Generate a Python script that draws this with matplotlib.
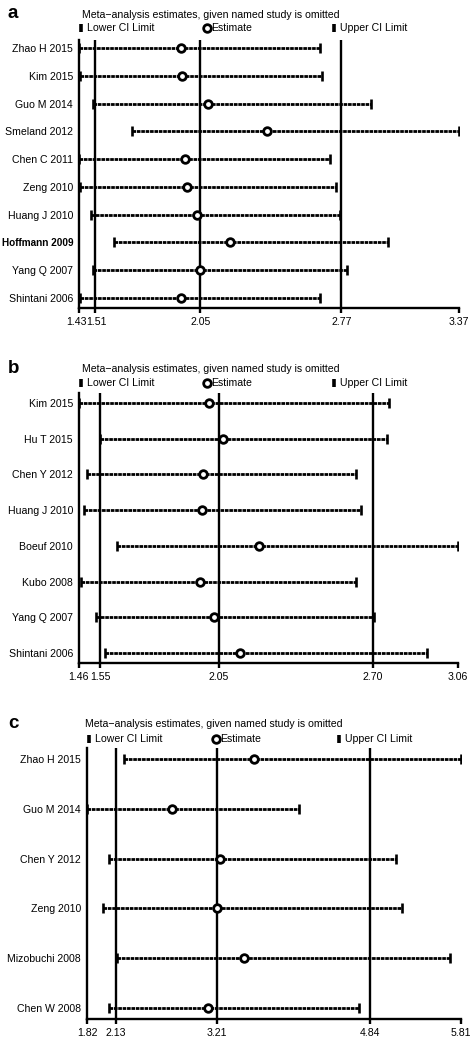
import matplotlib
matplotlib.use("Agg")
import matplotlib.pyplot as plt
from matplotlib.lines import Line2D
from matplotlib.transforms import ScaledTranslation

plt.rcParams['font.family'] = ['Liberation Sans', 'DejaVu Sans']

# ---------------- data ----------------
studies_a = ["Zhao H 2015", "Kim 2015", "Guo M 2014", "Smeland 2012", "Chen C 2011",
             "Zeng 2010", "Huang J 2010", "Hoffmann 2009", "Yang Q 2007", "Shintani 2006"]
est_a = [1.95, 1.955, 2.09, 2.39, 1.97, 1.98, 2.03, 2.20, 2.05, 1.95]
lo_a = [1.43, 1.435, 1.50, 1.70, 1.43, 1.435, 1.49, 1.61, 1.50, 1.435]
hi_a = [2.66, 2.67, 2.92, 3.37, 2.71, 2.74, 2.76, 3.01, 2.80, 2.66]
summary_a = [1.51, 2.05, 2.77]
ticks_a = [1.43, 1.51, 2.05, 2.77, 3.37]
ticklabels_a = ["1.43", "1.51", "2.05", "2.77", "3.37"]

studies_b = ["Kim 2015", "Hu T 2015", "Chen Y 2012", "Huang J 2010", "Boeuf 2010",
             "Kubo 2008", "Yang Q 2007", "Shintani 2006"]
est_b = [2.01, 2.07, 1.985, 1.98, 2.22, 1.97, 2.03, 2.14]
lo_b = [1.46, 1.55, 1.495, 1.48, 1.62, 1.47, 1.53, 1.57]
hi_b = [2.77, 2.76, 2.63, 2.65, 3.06, 2.63, 2.705, 2.93]
summary_b = [1.55, 2.05, 2.70]
ticks_b = [1.46, 1.55, 2.05, 2.70, 3.06]
ticklabels_b = ["1.46", "1.55", "2.05", "2.70", "3.06"]

studies_c = ["Zhao H 2015", "Guo M 2014", "Chen Y 2012", "Zeng 2010",
             "Mizobuchi 2008", "Chen W 2008"]
est_c = [3.60, 2.73, 3.24, 3.21, 3.50, 3.11]
lo_c = [2.22, 1.82, 2.06, 1.99, 2.14, 2.06]
hi_c = [5.81, 4.09, 5.12, 5.19, 5.70, 4.73]
summary_c = [2.13, 3.21, 4.84]
ticks_c = [1.82, 2.13, 3.21, 4.84, 5.81]
ticklabels_c = ["1.82", "2.13", "3.21", "4.84", "5.81"]

panel_letters = ["a", "b", "c"]
title_text = "Meta\u2212analysis estimates, given named study is omitted"

# ---------------- layout ----------------
W, H = 476, 1040
fig = plt.figure(figsize=(W / 100, H / 100), dpi=100)


def fx(x):
    return x / W


def fy(y):
    return 1 - y / H


def make_axes(left, right, top, bottom):
    return fig.add_axes([fx(left), fy(bottom), fx(right) - fx(left), (bottom - top) / H])


panels = [
    dict(studies=studies_a, est=est_a, lo=lo_a, hi=hi_a, summ=summary_a, ticks=ticks_a,
         tl=ticklabels_a, box=(79, 459, 40, 308), pad=(0.29, 0.36),
         title_xy=(82, 15), leg_y=28, leg_x=(81, 207, 334), letter_xy=(8, 13),
         shift=(-2.5, 1.5)),
    dict(studies=studies_b, est=est_b, lo=lo_b, hi=hi_b, summ=summary_b, ticks=ticks_b,
         tl=ticklabels_b, box=(79, 458, 393, 663), pad=(0.28, 0.28),
         title_xy=(82, 369), leg_y=383, leg_x=(81, 207, 334), letter_xy=(8, 368),
         shift=(-1.0, 0.0)),
    dict(studies=studies_c, est=est_c, lo=lo_c, hi=hi_c, summ=summary_c, ticks=ticks_c,
         tl=ticklabels_c, box=(87, 460.5, 748, 1019), pad=(0.22, 0.22),
         title_xy=(85, 724), leg_y=739, leg_x=(89, 216, 339), letter_xy=(8, 723),
         shift=(0, 0)),
]

LW = 1.7
FS = 7.6
for letter, p in zip(panel_letters, panels):
    l, r, t, b = p["box"]
    ax = make_axes(l, r, t, b)
    n = len(p["studies"])
    ys = list(range(n))
    ax.set_xlim(p["ticks"][0], p["ticks"][-1])
    ax.set_ylim(n - 1 + p["pad"][1], -p["pad"][0])

    for v in p["summ"]:
        ax.axvline(v, color="black", lw=LW, zorder=1)

    for y, lo, hi, e in zip(ys, p["lo"], p["hi"], p["est"]):
        ax.plot([lo, hi], [y, y], color="black", lw=2.0,
                linestyle=(0, (1.3, 0.28)), dash_capstyle="butt", zorder=2)
        ax.plot([lo, hi], [y, y], color="black", lw=0, marker="|", ms=6.5,
                mew=1.9, zorder=3)
        ax.plot([e], [y], marker="o", ms=5.5, mfc="white", mec="black", mew=2.0,
                lw=0, zorder=4)

    for s in ["top", "right"]:
        ax.spines[s].set_visible(False)
    for s in ["left", "bottom"]:
        ax.spines[s].set_linewidth(LW)
    ax.set_xticks(p["ticks"])
    ax.set_xticklabels(p["tl"], fontsize=FS)
    ax.tick_params(axis="x", direction="out", length=3.8, width=LW, pad=2.5)
    xl = ax.get_xticklabels()
    s0, s1 = p["shift"]
    xl[0].set_transform(xl[0].get_transform() + ScaledTranslation(s0 / 100, 0, fig.dpi_scale_trans))
    xl[1].set_transform(xl[1].get_transform() + ScaledTranslation(s1 / 100, 0, fig.dpi_scale_trans))
    ax.set_yticks(ys)
    ax.set_yticklabels(p["studies"], fontsize=FS)
    ax.tick_params(axis="y", length=0, pad=4.3)
    for lab in ax.get_yticklabels():
        if lab.get_text() == "Hoffmann 2009":
            lab.set_fontweight("bold")
            lab.set_fontsize(7.2)

    # title and legend
    tx, ty = p["title_xy"]
    fig.text(fx(tx), fy(ty), title_text, fontsize=FS, ha="left", va="center")
    ly = p["leg_y"]
    x1, x2, x3 = p["leg_x"]
    fig.add_artist(Line2D([fx(x1)], [fy(ly)], marker="|", ms=6, mew=2.6,
                          color="black", transform=fig.transFigure))
    fig.text(fx(x1 + 6), fy(ly), "Lower CI Limit", fontsize=FS, ha="left", va="center")
    fig.add_artist(Line2D([fx(x2)], [fy(ly)], marker="o", ms=5.5, mfc="white",
                          mec="black", mew=2.0, transform=fig.transFigure))
    fig.text(fx(x2 + 4.5), fy(ly), "Estimate", fontsize=FS, ha="left", va="center")
    fig.add_artist(Line2D([fx(x3)], [fy(ly)], marker="|", ms=6, mew=2.6,
                          color="black", transform=fig.transFigure))
    fig.text(fx(x3 + 6), fy(ly), "Upper CI Limit", fontsize=FS, ha="left", va="center")

    lx, lyy = p["letter_xy"]
    fig.text(fx(lx), fy(lyy), letter, fontsize=13.5, fontweight="bold",
             ha="left", va="center")

fig.savefig("out.png", dpi=100, facecolor="white")
